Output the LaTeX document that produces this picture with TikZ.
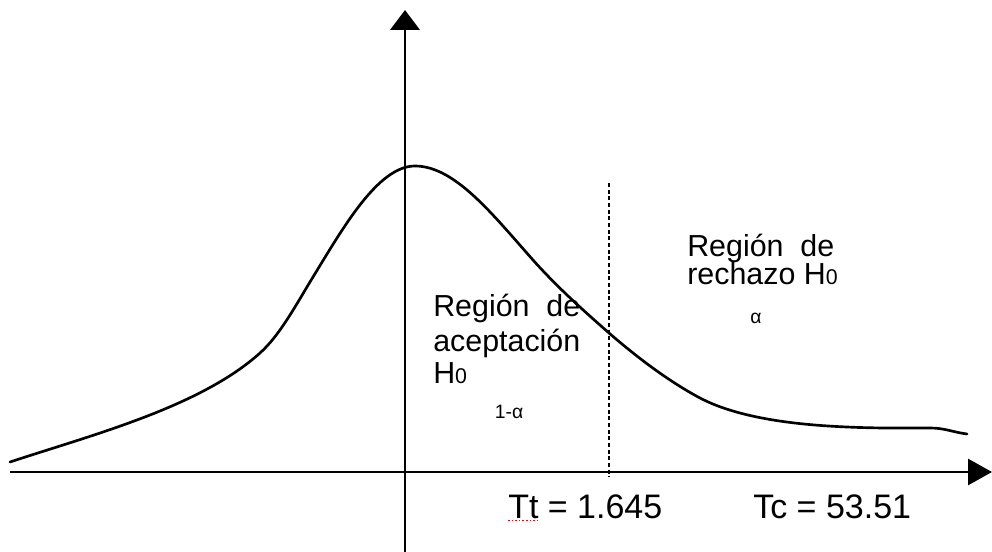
\documentclass[tikz,border=0pt]{standalone}
\usepackage{fontspec}
\setmainfont{Liberation Sans}
\usetikzlibrary{arrows.meta}
\begin{document}
\begin{tikzpicture}[x=0.75pt,y=-0.75pt,
  axis/.style={line width=2.2pt},
  curve/.style={line width=2pt, line cap=round, line join=round},
  lbl/.style={anchor=base west, inner sep=0pt, font=\fontsize{22.8pt}{27pt}\selectfont},
  small/.style={anchor=center, inner sep=0pt, font=\fontsize{14.5pt}{16pt}\selectfont},
  val/.style={anchor=base west, inner sep=0pt, font=\fontsize{25.5pt}{30pt}\selectfont}]
\newcommand{\sub}[1]{{\fontsize{16pt}{18pt}\selectfont #1}}
\useasboundingbox (0,0) rectangle (992,552);
% axes
\coordinate (xs) at (10,472);
\coordinate (xe) at (992,472);
\coordinate (ys) at (405,552);
\coordinate (ye) at (405,10);
\draw[axis,-{Triangle[length=18pt,width=19.5pt]}] (xs) -- (xe);
\draw[axis,-{Triangle[length=15pt,width=22pt]}] (ys) -- (ye);
% critical value dashed line
\coordinate (dt) at (609,183);
\coordinate (db) at (609,477);
\draw[line width=0.8pt, dash pattern=on 3pt off 2pt] (dt) -- (db);
% density curve
\draw[curve] (10,462)
  .. controls (93,434.6) and (200,407) .. (260,353)
  .. controls (280,335) and (295,306.5) .. (313,277)
  .. controls (343,228) and (378,166) .. (415,166)
  .. controls (455,166) and (493,215) .. (533,260)
  .. controls (558,288) and (584,311) .. (609,333)
  .. controls (639,359) and (670,382) .. (700,398)
  .. controls (740,419) and (800,425) .. (847,427)
  .. controls (880,428.5) and (910,428) .. (930,428)
  .. controls (945,428) and (952,432) .. (967,434);
% labels
\node[lbl] (a1) at (433,316) {Región\ \ de};
\node[lbl] (a2) at (433,351) {aceptación};
\node[lbl] (a3) at (433,383) {H\sub{0}};
\node[small] (a4) at (509,412) {1-α};
\node[lbl] (r1) at (687,257) {Región\ \ de};
\node[lbl] (r2) at (687,285) {rechazo H\sub{0}};
\node[small] (r3) at (756,318) {α};
\node[val] (tt) at (508,518) {Tt = 1.645};
\node[val] (tc) at (753,518) {Tc = 53.51};
\draw[red, line width=0.7pt, dash pattern=on 1.2pt off 1.5pt] ([yshift=-1.5pt]tt.base west) -- ++(31,0);
\end{tikzpicture}
\end{document}
